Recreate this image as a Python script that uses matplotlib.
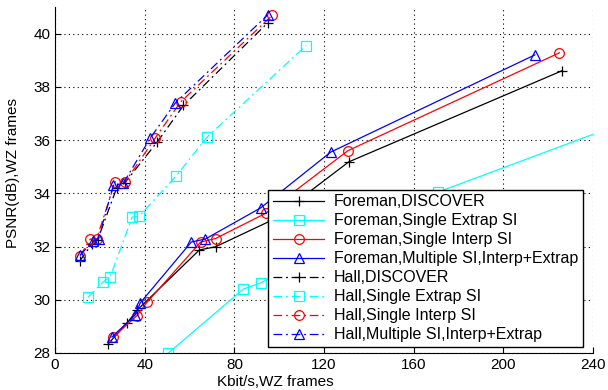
import matplotlib.pyplot as plt

plt.rcParams['font.family'] = ['Liberation Sans', 'DejaVu Sans']

# Foreman (solid lines)
foreman_discover_x = [23.7, 32.2, 36.5, 64.4, 71.6, 97.0, 131.0, 226.0]
foreman_discover_y = [28.34, 29.13, 29.6, 31.87, 31.99, 33.0, 35.18, 38.6]
foreman_extrap_x = [50.6, 84.0, 91.7, 171.0, 265.0]
foreman_extrap_y = [28.0, 30.4, 30.63, 34.05, 37.0]
foreman_interp_x = [26.0, 36.5, 41.0, 65.0, 71.6, 94.0, 130.6, 225.0]
foreman_interp_y = [28.6, 29.4, 29.9, 32.17, 32.3, 33.25, 35.6, 39.28]
foreman_multi_x = [25.4, 35.8, 38.0, 60.8, 67.0, 91.7, 123.0, 214.0]
foreman_multi_y = [28.6, 29.43, 29.88, 32.17, 32.28, 33.45, 35.55, 39.2]

# Hall (dash-dot lines)
hall_discover_x = [11.0, 16.5, 19.0, 27.5, 31.0, 45.6, 57.3, 94.8]
hall_discover_y = [31.45, 32.1, 32.25, 34.2, 34.38, 35.93, 37.3, 40.4]
hall_extrap_x = [14.8, 21.5, 24.6, 34.4, 37.6, 54.0, 68.0, 112.0]
hall_extrap_y = [30.1, 30.67, 30.86, 33.1, 33.15, 34.65, 36.13, 39.55]
hall_interp_x = [11.2, 15.7, 18.5, 26.8, 31.3, 44.7, 56.0, 97.0]
hall_interp_y = [31.65, 32.28, 32.28, 34.43, 34.43, 36.08, 37.43, 40.7]
hall_multi_x = [11.2, 17.0, 19.4, 26.0, 30.4, 42.5, 53.7, 94.8]
hall_multi_y = [31.68, 32.2, 32.3, 34.3, 34.37, 36.08, 37.4, 40.7]

xticks = [0, 40, 80, 120, 160, 200, 240]
yticks = [28, 30, 32, 34, 36, 38, 40]

dashdot = (0, (7, 3, 1.5, 3))
series = [
    (foreman_discover_x, foreman_discover_y, 'k', '+', '-', 'Foreman,DISCOVER'),
    (foreman_extrap_x, foreman_extrap_y, '#00ffff', 's', '-', 'Foreman,Single Extrap SI'),
    (foreman_interp_x, foreman_interp_y, 'red', 'o', '-', 'Foreman,Single Interp SI'),
    (foreman_multi_x, foreman_multi_y, 'blue', '^', '-', 'Foreman,Multiple SI,Interp+Extrap'),
    (hall_discover_x, hall_discover_y, 'k', '+', dashdot, 'Hall,DISCOVER'),
    (hall_extrap_x, hall_extrap_y, '#00ffff', 's', dashdot, 'Hall,Single Extrap SI'),
    (hall_interp_x, hall_interp_y, 'red', 'o', dashdot, 'Hall,Single Interp SI'),
    (hall_multi_x, hall_multi_y, 'blue', '^', dashdot, 'Hall,Multiple SI,Interp+Extrap'),
]

fig = plt.figure(figsize=(6.08, 3.9), dpi=100)
ax = fig.add_axes([0.0905, 0.095, 0.885, 0.887])

for x, y, c, m, ls, lab in series:
    ax.plot(x, y, color=c, marker=m, linestyle=ls, linewidth=0.9,
            markersize=7, markerfacecolor='none', markeredgecolor=c,
            markeredgewidth=0.9, label=lab)

ax.set_xlim(0, 240)
ax.set_ylim(28, 41)
ax.set_xticks(xticks)
ax.set_yticks(yticks)
ax.grid(True, linestyle=(0, (1, 3)), color='k', linewidth=0.8)
ax.spines['top'].set_visible(False)
ax.spines['right'].set_visible(False)
ax.tick_params(direction='in', labelsize=11, length=4)

ax.set_xlabel('Kbit/s,WZ frames', fontsize=11)
ax.xaxis.set_label_coords(0.41, -0.065)
ax.set_ylabel('PSNR(dB),WZ frames', fontsize=11)
ax.yaxis.set_label_coords(-0.065, 0.52)

leg = ax.legend(loc='lower right', bbox_to_anchor=(0.981, 0.017), fontsize=11.5,
                frameon=True, fancybox=False, framealpha=1, edgecolor='k',
                handlelength=3.2, labelspacing=0.25, borderpad=0.3,
                handletextpad=0.6, borderaxespad=0)
leg.get_frame().set_linewidth(1.0)

fig.savefig('out.png', dpi=100)
